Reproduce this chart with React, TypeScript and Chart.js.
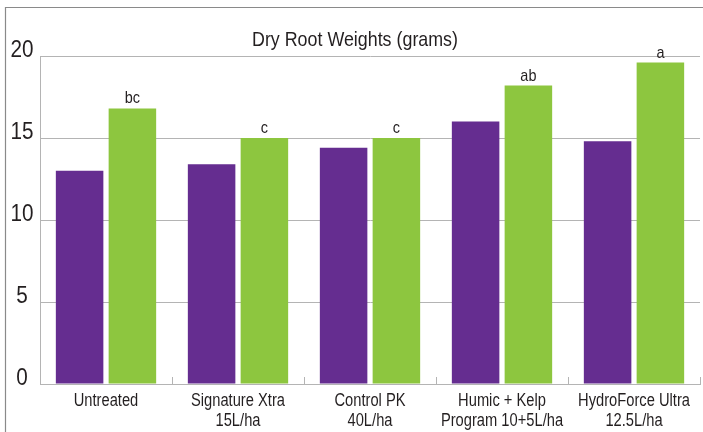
import React, { useEffect, useRef } from "react";
import { Chart, registerables } from "chart.js";

Chart.register(...registerables);

const categories: string[][] = [
  ["Untreated"],
  ["Signature Xtra", "15L/ha"],
  ["Control PK", "40L/ha"],
  ["Humic + Kelp", "Program 10+5L/ha"],
  ["HydroForce Ultra", "12.5L/ha"],
];
const seriesPurple = [13.0, 13.4, 14.4, 16.0, 14.8];
const seriesGreen = [16.8, 15.0, 15.0, 18.2, 19.6];
const greenLetters = ["bc", "c", "c", "ab", "a"];
const yTicks = [0, 5, 10, 15, 20];
const titleText = "Dry Root Weights (grams)";

const FONT = "'Liberation Sans', Arial, sans-serif";
const TEXT = "#231f20";
const GRID = "#b4b4b4";

function narrowText(
  ctx: CanvasRenderingContext2D,
  text: string,
  x: number,
  y: number,
  size: number,
  sx: number
) {
  ctx.save();
  ctx.translate(x, y);
  ctx.scale(sx, 1);
  ctx.font = `${size}px ${FONT}`;
  ctx.textAlign = "center";
  ctx.textBaseline = "alphabetic";
  ctx.fillStyle = TEXT;
  ctx.fillText(text, 0, 0);
  ctx.restore();
}

const overlay = {
  id: "overlay",
  beforeDraw(chart: any) {
    const ctx = chart.ctx;
    ctx.save();
    ctx.fillStyle = "#ffffff";
    ctx.fillRect(0, 0, chart.width, chart.height);
    ctx.strokeStyle = "#8a8a8a";
    ctx.lineWidth = 1.2;
    ctx.beginPath();
    ctx.moveTo(5.5, chart.height);
    ctx.lineTo(5.5, 7.5);
    ctx.lineTo(chart.width, 7.5);
    ctx.stroke();
    ctx.restore();
  },
  afterDraw(chart: any) {
    const ctx = chart.ctx;
    const xs = chart.scales.x;
    const ys = chart.scales.y;
    const area = chart.chartArea;
    ctx.save();
    // title
    narrowText(ctx, titleText, 355, 45.5, 21, 0.85);
    // y labels
    yTicks.forEach((v) => {
      narrowText(ctx, String(v), 22, ys.getPixelForValue(v) + 0.5, 23, 0.9);
    });
    // x labels
    categories.forEach((lines, i) => {
      const px = xs.getPixelForTick(i);
      lines.forEach((line, j) => {
        narrowText(ctx, line, px, area.bottom + 22.3 + j * 19.4, 17.5, 0.84);
      });
    });
    // category boundary ticks
    ctx.strokeStyle = GRID;
    ctx.lineWidth = 1;
    for (let i = 0; i < categories.length; i++) {
      const px = Math.round(xs.getPixelForValue(i + 0.5)) + 0.5;
      ctx.beginPath();
      ctx.moveTo(px, area.bottom);
      ctx.lineTo(px, area.bottom - 7);
      ctx.stroke();
    }
    // letters above green bars
    const meta = chart.getDatasetMeta(1);
    meta.data.forEach((bar: any, i: number) => {
      narrowText(ctx, greenLetters[i], bar.x, bar.y - 5, 17, 0.85);
    });
    ctx.restore();
  },
};

export default function App() {
  const ref = useRef<HTMLCanvasElement>(null);
  useEffect(() => {
    if (!ref.current) return;
    const chart = new Chart(ref.current, {
      type: "bar",
      data: {
        labels: categories,
        datasets: [
          {
            label: "Control",
            data: seriesPurple,
            backgroundColor: "#652d90",
            borderWidth: 0,
          },
          {
            label: "Treated",
            data: seriesGreen,
            backgroundColor: "#8dc63f",
            borderWidth: 0,
          },
        ],
      },
      options: {
        animation: false,
        responsive: false,
        maintainAspectRatio: false,
        layout: { padding: { left: 6, right: 3, top: 56, bottom: 0 } },
        datasets: { bar: { categoryPercentage: 0.8, barPercentage: 0.9 } },
        plugins: {
          legend: { display: false },
          tooltip: { enabled: false },
          title: { display: false },
        },
        scales: {
          x: {
            grid: { display: false, drawTicks: false },
            border: { display: true, color: GRID, width: 1 },
            ticks: { display: false },
            afterFit(scale: any) {
              scale.height = 48;
              scale.paddingLeft = 0;
              scale.paddingRight = 0;
            },
          },
          y: {
            min: 0,
            max: 20,
            ticks: { stepSize: 5, display: false },
            grid: { color: GRID, lineWidth: 1, drawTicks: false },
            border: { display: true, color: GRID, width: 1 },
            afterFit(scale: any) {
              scale.width = 34;
              scale.paddingTop = 0;
              scale.paddingBottom = 0;
            },
          },
        },
      },
      plugins: [overlay],
    });
    return () => chart.destroy();
  }, []);
  return (
    <div style={{ position: "fixed", left: 0, top: 0, width: 703, height: 432 }}>
      <canvas ref={ref} width={703} height={432} style={{ display: "block" }} />
    </div>
  );
}
